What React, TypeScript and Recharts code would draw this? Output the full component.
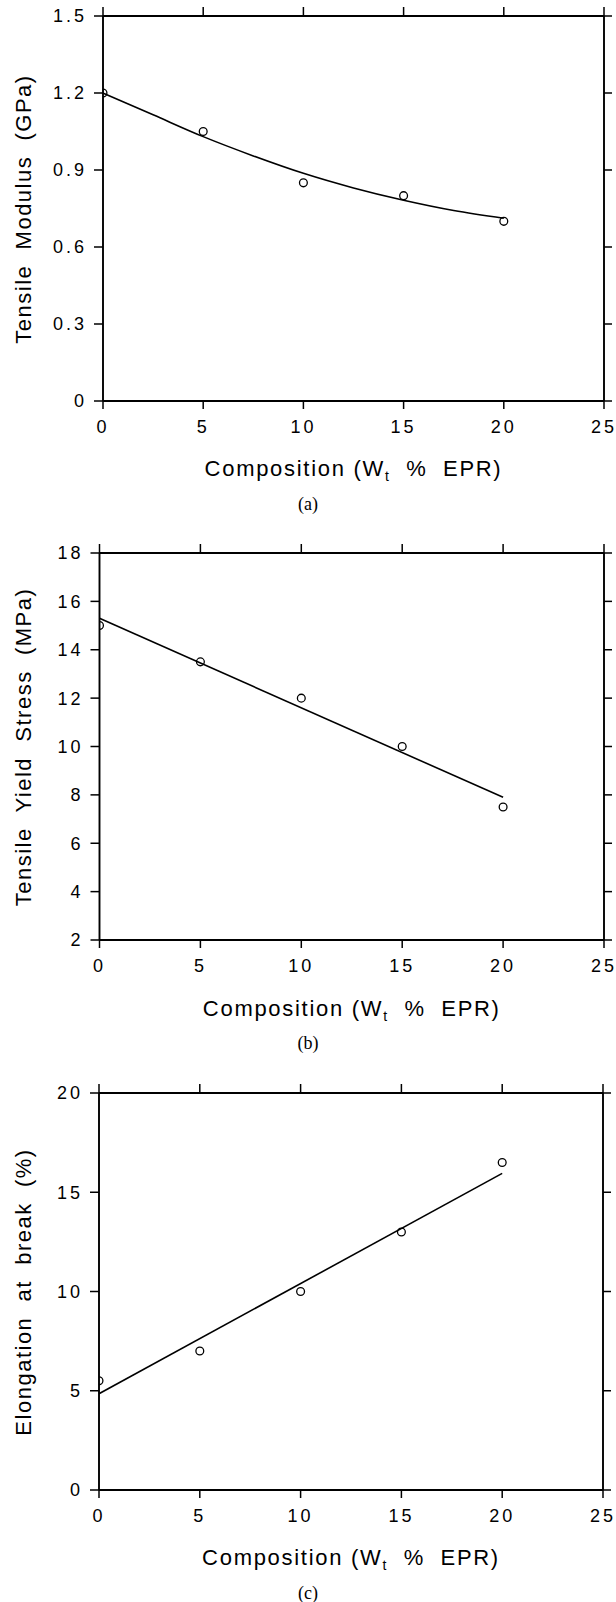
import { ComposedChart, Line, Scatter, XAxis, YAxis } from 'recharts'

// composition, wt % EPR
const compX = [0, 5, 10, 15, 20]
const xTicks = [0, 5, 10, 15, 20, 25]

// (a) tensile modulus, GPa
const modulus = [1.2, 1.05, 0.85, 0.8, 0.7]
const modulusFitX = [0, 2.5, 5, 7.5, 10, 12.5, 15, 17.5, 20]
const modulusFit = [1.2, 1.115, 1.03, 0.955, 0.887, 0.83, 0.782, 0.742, 0.712]
const modulusTicks = [0, 0.3, 0.6, 0.9, 1.2, 1.5]

// (b) tensile yield stress, MPa
const yieldStress = [15.0, 13.5, 12.0, 10.0, 7.5]
const lineFitX = [0, 20]
const yieldFit = [15.3, 7.9]
const yieldTicks = [2, 4, 6, 8, 10, 12, 14, 16, 18]

// (c) elongation at break, %
const elongation = [5.5, 7.0, 10.0, 13.0, 16.5]
const elongFit = [4.85, 15.95]
const elongTicks = [0, 5, 10, 15, 20]

const FONT = '"Liberation Sans", Arial, Helvetica, sans-serif'
const SERIF = '"Liberation Serif", "Times New Roman", serif'

const toPts = (xs: number[], ys: number[]) => xs.map((x, i) => ({ x, y: ys[i] }))

const noTick = () => <g />
const axisLine = { stroke: '#000', strokeWidth: 1.9 }
const tickLine = { stroke: '#000', strokeWidth: 1.5 }
const tickStyle = { fontSize: 18, fill: '#000', fontFamily: FONT, letterSpacing: 3 }

interface PanelProps {
  top: number
  height: number
  left: number
  right: number
  marginTop: number
  points: { x: number; y: number }[]
  fit: { x: number; y: number }[]
  curve: 'monotone' | 'linear'
  yTicks: number[]
  yFmt: (v: number) => string
  yTitle: string
  xTitleY: number
  tag: string
  tagY: number
}

function Panel(p: PanelProps) {
  const domain: [number, number] = [p.yTicks[0], p.yTicks[p.yTicks.length - 1]]
  const plotTop = p.top + p.marginTop + 10
  const plotBottom = p.top + p.height - 38
  const midX = (p.left + 616 - p.right) / 2
  return (
    <>
      <div style={{ position: 'absolute', left: 0, top: p.top }}>
        <ComposedChart
          width={616}
          height={p.height}
          margin={{ top: p.marginTop, right: 0, bottom: 0, left: 0 }}
        >
          <XAxis
            type="number"
            dataKey="x"
            domain={[0, 25]}
            ticks={xTicks}
            allowDataOverflow
            height={38}
            tickSize={8}
            tickMargin={11}
            axisLine={axisLine}
            tickLine={tickLine}
            tick={tickStyle}
          />
          <XAxis
            xAxisId="top"
            orientation="top"
            type="number"
            dataKey="x"
            domain={[0, 25]}
            ticks={xTicks}
            allowDataOverflow
            height={10}
            tickSize={9}
            axisLine={axisLine}
            tickLine={tickLine}
            tick={noTick}
          />
          <YAxis
            type="number"
            dataKey="y"
            domain={domain}
            ticks={p.yTicks}
            allowDataOverflow
            width={p.left}
            tickSize={9}
            tickMargin={7}
            axisLine={axisLine}
            tickLine={tickLine}
            tick={tickStyle}
            tickFormatter={p.yFmt}
          />
          <YAxis
            yAxisId="right"
            orientation="right"
            type="number"
            domain={domain}
            ticks={p.yTicks}
            allowDataOverflow
            width={p.right}
            tickSize={8}
            axisLine={axisLine}
            tickLine={tickLine}
            tick={noTick}
          />
          <Line
            data={p.fit}
            dataKey="y"
            type={p.curve}
            stroke="#000"
            strokeWidth={1.6}
            dot={false}
            isAnimationActive={false}
          />
          <Scatter
            data={p.points}
            dataKey="y"
            isAnimationActive={false}
            shape={(s: any) => (
              <circle cx={s.cx} cy={s.cy} r={3.9} fill="none" stroke="#000" strokeWidth={1.3} />
            )}
          />
        </ComposedChart>
      </div>
      <div
        style={{
          position: 'absolute',
          left: 24,
          top: (plotTop + plotBottom) / 2,
          transform: 'translate(-50%, -50%) rotate(-90deg)',
          whiteSpace: 'pre',
          fontFamily: FONT,
          fontSize: 22,
          letterSpacing: 1.5,
          lineHeight: 1,
        }}
      >
        {p.yTitle}
      </div>
      <div
        style={{
          position: 'absolute',
          left: midX,
          top: p.xTitleY,
          transform: 'translate(-50%, -50%)',
          whiteSpace: 'pre',
          fontFamily: FONT,
          fontSize: 22,
          letterSpacing: 1.7,
          lineHeight: 1,
        }}
      >
        {'Composition (W'}
        <sub style={{ fontSize: 14, verticalAlign: -5 }}>t</sub>
        {'  %  EPR)'}
      </div>
      <div
        style={{
          position: 'absolute',
          left: 308,
          top: p.tagY,
          transform: 'translate(-50%, -50%)',
          fontFamily: SERIF,
          fontSize: 18,
          lineHeight: 1,
        }}
      >
        {p.tag}
      </div>
    </>
  )
}

export default function App() {
  return (
    <div style={{ position: 'absolute', left: 0, top: 0, width: 616, height: 1602, background: '#fff' }}>
      <Panel
        top={0}
        height={439}
        left={103}
        right={12}
        marginTop={6}
        points={toPts(compX, modulus)}
        fit={toPts(modulusFitX, modulusFit)}
        curve="monotone"
        yTicks={modulusTicks}
        yFmt={v => (v === 0 ? '0' : v.toFixed(1))}
        yTitle="Tensile  Modulus  (GPa)"
        xTitleY={470}
        tag="(a)"
        tagY={504}
      />
      <Panel
        top={540}
        height={438}
        left={99.5}
        right={12}
        marginTop={3}
        points={toPts(compX, yieldStress)}
        fit={toPts(lineFitX, yieldFit)}
        curve="linear"
        yTicks={yieldTicks}
        yFmt={v => String(v)}
        yTitle="Tensile  Yield  Stress  (MPa)"
        xTitleY={1010}
        tag="(b)"
        tagY={1043}
      />
      <Panel
        top={1080}
        height={448}
        left={99}
        right={13}
        marginTop={3}
        points={toPts(compX, elongation)}
        fit={toPts(lineFitX, elongFit)}
        curve="linear"
        yTicks={elongTicks}
        yFmt={v => String(v)}
        yTitle="Elongation  at  break  (%)"
        xTitleY={1559}
        tag="(c)"
        tagY={1593}
      />
    </div>
  )
}
